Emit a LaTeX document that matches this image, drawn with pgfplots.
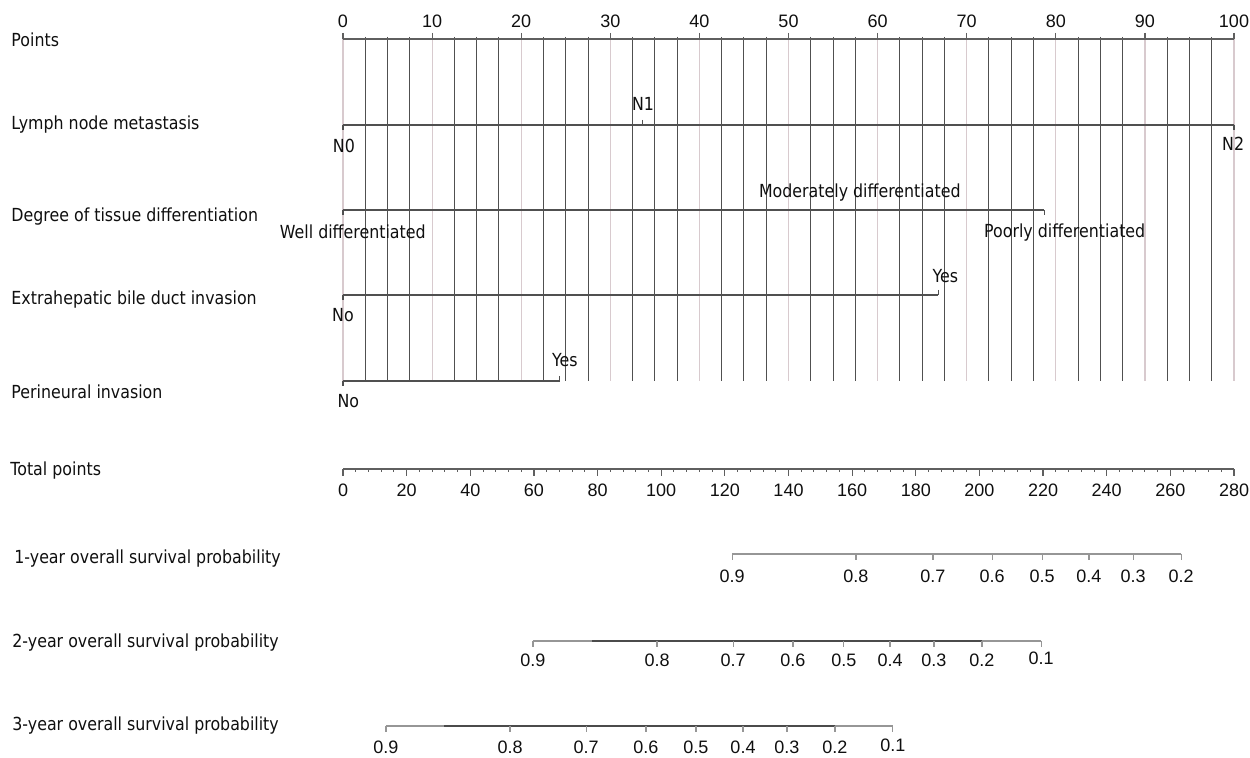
\documentclass[border=0pt]{standalone}
\usepackage{pgfplots}
\pgfplotsset{compat=1.18}
\usepackage{fontspec}
\setmainfont{Liberation Sans}
\newfontfamily\tah[FakeStretch=0.88]{DejaVu Sans}
\definecolor{gridlight}{RGB}{216,202,206}
\definecolor{griddark}{RGB}{80,80,80}
\definecolor{axgray}{RGB}{95,95,95}
\definecolor{probgray}{RGB}{150,150,150}
\definecolor{probdark}{RGB}{75,75,75}
\definecolor{txt}{RGB}{15,15,15}
\pgfplotsset{
  P/.style={width=625pt, height=379pt, scale only axis, ymin=0, ymax=758, y dir=reverse,
    hide axis, clip=false, at={(0,0)}, anchor=south west},
}
\tikzset{
  lab/.style={font=\tah\fontsize{9}{10}\selectfont, text=txt, inner sep=0pt, anchor=base},
  ttl/.style={font=\tah\fontsize{9}{10}\selectfont, text=txt, inner sep=0pt, anchor=base west},
  tk/.style={font=\fontsize{9}{10}\selectfont, text=txt, inner sep=0pt, anchor=base},
}
\begin{document}
\begin{tikzpicture}
\path[use as bounding box] (0,0) rectangle (625pt,379pt);
% ---------- axis in "Points" units ----------
\begin{axis}[P, xmin=-38.4961, xmax=101.7957]
\pgfplotsinvokeforeach{0,10,20,30,40,50,60,70,80,90,100}{
  \addplot[gridlight, line width=0.6pt] coordinates {(#1,39) (#1,381)};
}
\pgfplotsinvokeforeach{2.5,5,7.5,12.5,15,17.5,22.5,25,27.5,32.5,35,37.5,42.5,45,47.5,52.5,55,57.5,62.5,65,67.5,72.5,75,77.5,82.5,85,87.5,92.5,95,97.5}{
  \addplot[griddark, line width=0.5pt] coordinates {(#1,37) (#1,381)};
}
% Points scale
\addplot[axgray, line width=0.6pt] coordinates {(0,39) (100,39)};
\pgfplotsinvokeforeach{0,10,20,30,40,50,60,70,80,90,100}{
  \addplot[axgray, line width=0.6pt] coordinates {(#1,33) (#1,39)};
  \node[tk] at (axis cs:#1,28) {#1};
}
% Lymph node metastasis
\addplot[griddark, line width=0.6pt] coordinates {(0,125) (100,125)};
\addplot[griddark, line width=0.6pt] coordinates {(0,125) (0,130)};
\addplot[griddark, line width=0.6pt] coordinates {(33.6,120) (33.6,125)};
\addplot[griddark, line width=0.6pt] coordinates {(100,125) (100,130)};
\node[lab] at (axis cs:0.1,153) {N0};
\node[lab] at (axis cs:33.67,111) {N1};
\node[lab] at (axis cs:99.9,151) {N2};
% Degree of tissue differentiation
\addplot[griddark, line width=0.6pt] coordinates {(0,210) (78.7,210)};
\addplot[griddark, line width=0.6pt] coordinates {(0,210) (0,215)};
\addplot[griddark, line width=0.6pt] coordinates {(57.5,205) (57.5,210)};
\addplot[griddark, line width=0.6pt] coordinates {(78.7,210) (78.7,215)};
\node[lab] at (axis cs:1.1,239) {Well differentiated};
\node[lab] at (axis cs:58.0,198) {Moderately differentiated};
\node[lab] at (axis cs:81.0,238) {Poorly differentiated};
% Extrahepatic bile duct invasion
\addplot[griddark, line width=0.6pt] coordinates {(0,295) (66.8,295)};
\addplot[griddark, line width=0.6pt] coordinates {(0,295) (0,300)};
\addplot[griddark, line width=0.6pt] coordinates {(66.8,290) (66.8,295)};
\node[lab] at (axis cs:0,322) {No};
\node[lab] at (axis cs:67.6,283) {Yes};
% Perineural invasion
\addplot[griddark, line width=0.6pt] coordinates {(0,381) (24.3,381)};
\addplot[griddark, line width=0.6pt] coordinates {(0,381) (0,386)};
\addplot[griddark, line width=0.6pt] coordinates {(24.3,376) (24.3,381)};
\node[lab] at (axis cs:0.6,408) {No};
\node[lab] at (axis cs:24.9,367) {Yes};
% row titles
\node[ttl] at (axis cs:-37.26,47) {Points};
\node[ttl] at (axis cs:-37.26,130) {Lymph node metastasis};
\node[ttl] at (axis cs:-37.26,222) {Degree of tissue differentiation};
\node[ttl] at (axis cs:-37.26,305) {Extrahepatic bile duct invasion};
\node[ttl] at (axis cs:-37.26,399) {Perineural invasion};
\node[ttl] at (axis cs:-37.38,476) {Total points};
\node[ttl] at (axis cs:-36.93,564) {1-year overall survival probability};
\node[ttl] at (axis cs:-37.15,648) {2-year overall survival probability};
\node[ttl] at (axis cs:-37.15,731) {3-year overall survival probability};
\end{axis}
% ---------- axis in "Total points" units ----------
\begin{axis}[P, xmin=-107.789, xmax=285.027]
% Total points scale
\addplot[axgray, line width=0.6pt] coordinates {(0,469) (280,469)};
\pgfplotsinvokeforeach{4,8,12,16,24,28,32,36,44,48,52,56,64,68,72,76,84,88,92,96,104,108,112,116,124,128,132,136,144,148,152,156,164,168,172,176,184,188,192,196,204,208,212,216,224,228,232,236,244,248,252,256,264,268,272,276}{
  \addplot[axgray, line width=0.5pt] coordinates {(#1,469) (#1,472.5)};
}
\pgfplotsinvokeforeach{0,20,40,60,80,100,120,140,160,180,200,220,240,260,280}{
  \addplot[axgray, line width=0.6pt] coordinates {(#1,469) (#1,476)};
  \node[tk] at (axis cs:#1,497) {#1};
}
% 1-year
\addplot[probgray, line width=0.7pt] coordinates {(122.3,554) (263.4,554)};
\addplot[probgray, line width=0.6pt] coordinates {(122.3,554) (122.3,560)};
\addplot[probgray, line width=0.6pt] coordinates {(161.2,554) (161.2,560)};
\addplot[probgray, line width=0.6pt] coordinates {(185.4,554) (185.4,560)};
\addplot[probgray, line width=0.6pt] coordinates {(204.0,554) (204.0,560)};
\addplot[probgray, line width=0.6pt] coordinates {(219.7,554) (219.7,560)};
\addplot[probgray, line width=0.6pt] coordinates {(234.4,554) (234.4,560)};
\addplot[probgray, line width=0.6pt] coordinates {(248.3,554) (248.3,560)};
\addplot[probgray, line width=0.6pt] coordinates {(263.4,554) (263.4,560)};
\node[tk] at (axis cs:122.3,583) {0.9};
\node[tk] at (axis cs:161.2,583) {0.8};
\node[tk] at (axis cs:185.4,583) {0.7};
\node[tk] at (axis cs:204.0,583) {0.6};
\node[tk] at (axis cs:219.7,583) {0.5};
\node[tk] at (axis cs:234.4,583) {0.4};
\node[tk] at (axis cs:248.3,583) {0.3};
\node[tk] at (axis cs:263.4,583) {0.2};
% 2-year
\addplot[probgray, line width=0.7pt] coordinates {(59.7,641) (219.4,641)};
\addplot[probdark, line width=0.7pt] coordinates {(78.3,641) (200.8,641)};
\addplot[probgray, line width=0.6pt] coordinates {(59.7,641) (59.7,647)};
\addplot[probgray, line width=0.6pt] coordinates {(98.7,641) (98.7,647)};
\addplot[probgray, line width=0.6pt] coordinates {(122.6,641) (122.6,647)};
\addplot[probgray, line width=0.6pt] coordinates {(141.4,641) (141.4,647)};
\addplot[probgray, line width=0.6pt] coordinates {(157.4,641) (157.4,647)};
\addplot[probgray, line width=0.6pt] coordinates {(171.9,641) (171.9,647)};
\addplot[probgray, line width=0.6pt] coordinates {(185.7,641) (185.7,647)};
\addplot[probgray, line width=0.6pt] coordinates {(200.8,641) (200.8,647)};
\addplot[probgray, line width=0.6pt] coordinates {(219.4,641) (219.4,647)};
\node[tk] at (axis cs:59.7,667) {0.9};
\node[tk] at (axis cs:98.7,667) {0.8};
\node[tk] at (axis cs:122.6,667) {0.7};
\node[tk] at (axis cs:141.4,667) {0.6};
\node[tk] at (axis cs:157.4,667) {0.5};
\node[tk] at (axis cs:171.9,667) {0.4};
\node[tk] at (axis cs:185.7,667) {0.3};
\node[tk] at (axis cs:200.8,667) {0.2};
\node[tk] at (axis cs:219.4,665) {0.1};
% 3-year
\addplot[probgray, line width=0.7pt] coordinates {(13.5,726) (172.8,726)};
\addplot[probdark, line width=0.7pt] coordinates {(31.7,726) (154.6,726)};
\addplot[probgray, line width=0.6pt] coordinates {(13.5,726) (13.5,732)};
\addplot[probgray, line width=0.6pt] coordinates {(52.5,726) (52.5,732)};
\addplot[probgray, line width=0.6pt] coordinates {(76.4,726) (76.4,732)};
\addplot[probgray, line width=0.6pt] coordinates {(95.2,726) (95.2,732)};
\addplot[probgray, line width=0.6pt] coordinates {(110.9,726) (110.9,732)};
\addplot[probgray, line width=0.6pt] coordinates {(125.7,726) (125.7,732)};
\addplot[probgray, line width=0.6pt] coordinates {(139.5,726) (139.5,732)};
\addplot[probgray, line width=0.6pt] coordinates {(154.6,726) (154.6,732)};
\addplot[probgray, line width=0.6pt] coordinates {(172.8,726) (172.8,732)};
\node[tk] at (axis cs:13.5,754) {0.9};
\node[tk] at (axis cs:52.5,754) {0.8};
\node[tk] at (axis cs:76.4,754) {0.7};
\node[tk] at (axis cs:95.2,754) {0.6};
\node[tk] at (axis cs:110.9,754) {0.5};
\node[tk] at (axis cs:125.7,754) {0.4};
\node[tk] at (axis cs:139.5,754) {0.3};
\node[tk] at (axis cs:154.6,754) {0.2};
\node[tk] at (axis cs:172.8,752) {0.1};
\end{axis}
\end{tikzpicture}
\end{document}
